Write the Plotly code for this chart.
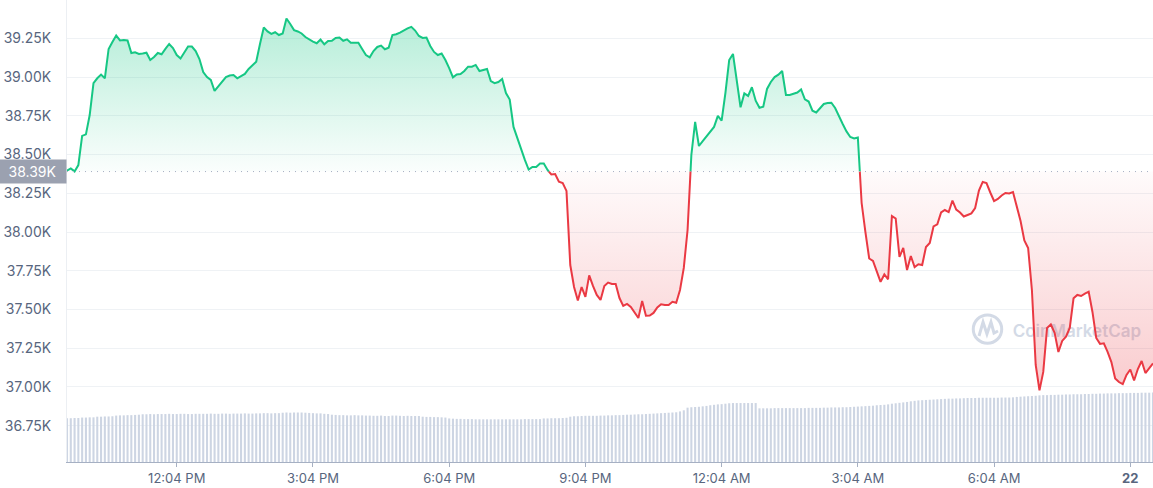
import pandas as pd
import plotly.graph_objects as go

# ---------------- data ----------------
start_time = "2022-02-21 09:39"
base_price = 38390  # opening price (dotted reference line)

prices = [
    38396, 38410, 38391, 38432, 38620, 38630, 38755, 38961, 38992, 39016,
    38992, 39181, 39226, 39268, 39236, 39239, 39236, 39155, 39160, 39149,
    39152, 39157, 39110, 39129, 39155, 39147, 39181, 39213, 39187, 39142,
    39120, 39155, 39197, 39197, 39168, 39116, 39032, 39000, 38981, 38910,
    38942, 38968, 39000, 39010, 39013, 38992, 39007, 39020, 39052, 39078,
    39099, 39213, 39320, 39294, 39278, 39289, 39271, 39281, 39378, 39342,
    39303, 39294, 39281, 39258, 39242, 39229, 39218, 39242, 39211, 39232,
    39234, 39252, 39255, 39234, 39243, 39221, 39221, 39221, 39181, 39142,
    39127, 39168, 39194, 39203, 39179, 39189, 39271, 39276, 39287, 39303,
    39314, 39324, 39300, 39265, 39252, 39255, 39200, 39162, 39142, 39152,
    39110, 39058, 38998, 39016, 39020, 39039, 39067, 39067, 39078, 39039,
    39045, 39052, 38974, 38960, 38968, 38987, 38897, 38855, 38678, 38613,
    38536, 38465, 38403, 38420, 38420, 38442, 38442, 38400, 38371, 38374,
    38325, 38316, 38265, 37787, 37645, 37558, 37645, 37581, 37720, 37652,
    37594, 37562, 37652, 37674, 37665, 37665, 37574, 37523, 37536, 37516,
    37478, 37445, 37555, 37460, 37461, 37478, 37513, 37534, 37529, 37529,
    37550, 37543, 37626, 37768, 38013, 38497, 38710, 38555, 38587, 38620,
    38652, 38678, 38749, 38718, 38897, 39110, 39149, 38981, 38805, 38894,
    38878, 38934, 38847, 38802, 38809, 38923, 38968, 39000, 39015, 39039,
    38884, 38884, 38891, 38900, 38920, 38856, 38842, 38783, 38771, 38798,
    38826, 38832, 38834, 38800, 38745, 38697, 38649, 38613, 38603, 38610,
    38187, 38000, 37829, 37813, 37742, 37678, 37726, 37695, 38103, 38087,
    37839, 37897, 37755, 37845, 37774, 37792, 37787, 37903, 37929, 38036,
    38049, 38126, 38142, 38129, 38203, 38145, 38126, 38100, 38110, 38120,
    38155, 38268, 38323, 38316, 38255, 38200, 38213, 38236, 38252, 38249,
    38258, 38155, 38071, 37945, 37897, 37626, 37142, 36978, 37097, 37381,
    37403, 37349, 37226, 37297, 37325, 37381, 37572, 37594, 37587, 37603,
    37615, 37484, 37316, 37278, 37282, 37226, 37161, 37055, 37032, 37019,
    37078, 37113, 37042, 37116, 37168, 37090, 37123, 37152,
]

volumes_b = [
    19.9, 19.9, 20.0, 20.0,
    20.2, 20.2, 20.3, 20.3,
    20.6, 20.6, 20.7, 20.7, 20.8,
    21.1, 21.2, 21.2, 21.3, 21.3, 21.4, 21.5,
    21.7, 21.7, 21.8, 21.7, 21.8, 21.8, 21.8, 21.9, 21.8, 21.8, 21.9, 21.9, 21.8, 21.8, 21.9, 21.9,
    21.9, 21.9, 22.0, 21.9, 21.9, 22.0, 22.0, 21.9, 22.0, 22.0, 22.0, 22.1, 22.0, 22.0, 22.1,
    22.1, 22.2, 22.2, 22.1, 22.2, 22.2,
    22.4, 22.5, 22.4, 22.5, 22.5, 22.5, 22.4, 22.3,
    22.2, 22.1, 22.1, 21.9, 21.8,
    21.5, 21.4, 21.3, 21.3, 21.2, 21.2, 21.3, 21.2, 21.2, 21.1, 21.1,
    21.0, 21.0, 21.1, 20.9, 20.9, 21.1, 21.1, 21.0, 20.9, 21.0, 20.9, 20.9, 20.9,
    20.6, 20.5, 20.5, 20.4, 20.4, 20.3, 20.2,
    19.8, 19.7, 19.6, 19.6, 19.5, 19.5, 19.5, 19.4, 19.4, 19.4, 19.4, 19.4, 19.4,
    19.4, 19.4, 19.4, 19.4, 19.4, 19.4, 19.4, 19.5, 19.5, 19.5, 19.5, 19.5,
    19.8, 19.8, 19.9, 19.9, 19.9, 20.0, 20.1,
    20.6, 20.8, 20.8, 20.9, 21.0, 21.0, 21.0, 21.0,
    21.1, 21.1, 21.2, 21.2, 21.3, 21.3, 21.4, 21.5, 21.5,
    21.6, 21.7, 21.7, 21.8, 21.9, 22.0, 22.1, 22.2, 22.3, 22.4, 22.5,
    22.6, 23.0, 23.5,
    24.7, 24.9, 25.0, 25.1, 25.3, 25.5, 25.8, 26.0, 26.2, 26.3, 26.5,
    26.7, 26.8, 26.8, 26.8, 26.8, 26.8, 26.8, 26.8,
    24.4, 24.4, 24.4, 24.4, 24.5, 24.5, 24.5, 24.5, 24.5, 24.5, 24.5, 24.5,
    24.5, 24.6, 24.6, 24.6, 24.6, 24.7, 24.7, 24.8, 24.8, 24.8, 24.9, 24.9,
    25.0, 25.1, 25.2, 25.3, 25.4, 25.5, 25.6, 25.8,
    25.9, 26.0, 26.2,
    26.5, 26.7, 26.9, 27.1, 27.3,
    27.6, 27.8, 28.0, 28.1,
    28.2, 28.3, 28.4, 28.5, 28.6, 28.7, 28.8, 28.8, 28.9, 28.9, 29.0,
    29.1, 29.1, 29.1, 29.2, 29.2, 29.2, 29.2, 29.2, 29.2, 29.3, 29.3, 29.3, 29.4,
    29.6, 29.7, 29.8, 29.9, 30.0, 30.1,
    30.3, 30.4, 30.4, 30.5, 30.5,
    30.6, 30.6, 30.7, 30.7, 30.8, 30.8, 30.8, 30.9,
    30.9, 31.0, 31.0, 31.1, 31.1, 31.2,
    31.2, 31.2, 31.3, 31.3, 31.3, 31.4, 31.4, 31.4, 31.5, 31.5, 31.5, 31.6,
]

tick_times = ["2022-02-21 12:04", "2022-02-21 15:04", "2022-02-21 18:04",
              "2022-02-21 21:04", "2022-02-22 00:04", "2022-02-22 03:04",
              "2022-02-22 06:04", "2022-02-22 09:04"]
tick_labels = ["12:04 PM", "3:04 PM", "6:04 PM", "9:04 PM",
               "12:04 AM", "3:04 AM", "6:04 AM", "<b>22</b>"]
y_tick_values = [36750, 37000, 37250, 37500, 37750, 38000,
                 38250, 38500, 38750, 39000, 39250]
y_tick_labels = ["36.75K", "37.00K", "37.25K", "37.50K", "37.75K", "38.00K",
                 "38.25K", "38.50K", "38.75K", "39.00K", "39.25K"]

# ---------------- build ----------------
GREEN = "#16c784"
RED = "#ea3943"
GREY_TXT = "#58667e"

price_times = list(pd.date_range(start_time, periods=len(prices), freq="5min"))
vol_times = list(pd.date_range(start_time, periods=len(volumes_b), freq="5min"))

# split the line where it crosses the opening price
xs, ys = [], []
for i, p in enumerate(prices):
    if i > 0:
        p0 = prices[i - 1]
        if (p0 - base_price) * (p - base_price) < 0:
            f = (base_price - p0) / (p - p0)
            xs.append(price_times[i - 1] + (price_times[i] - price_times[i - 1]) * f)
            ys.append(base_price)
    xs.append(price_times[i])
    ys.append(p)

up_line = [y if y >= base_price else None for y in ys]
dn_line = [y if y <= base_price else None for y in ys]
up_fill = [max(y, base_price) for y in ys]
dn_fill = [min(y, base_price) for y in ys]
base_line = [base_price] * len(ys)

fig = go.Figure()

fig.add_trace(go.Bar(x=vol_times, y=volumes_b, yaxis="y2",
                     marker=dict(color="#cdd5e3", line=dict(width=0)),
                     hoverinfo="skip"))

invisible = dict(width=0, color="rgba(0,0,0,0)")
fig.add_trace(go.Scatter(x=xs, y=base_line, mode="lines", line=invisible, hoverinfo="skip"))
fig.add_trace(go.Scatter(x=xs, y=up_fill, mode="lines", line=invisible, fill="tonexty",
                         fillgradient=dict(type="vertical",
                                           colorscale=[[0, "rgba(22,199,132,0.02)"],
                                                       [1, "rgba(22,199,132,0.32)"]]),
                         hoverinfo="skip"))
fig.add_trace(go.Scatter(x=xs, y=base_line, mode="lines", line=invisible, hoverinfo="skip"))
fig.add_trace(go.Scatter(x=xs, y=dn_fill, mode="lines", line=invisible, fill="tonexty",
                         fillgradient=dict(type="vertical",
                                           colorscale=[[0, "rgba(234,57,67,0.26)"],
                                                       [1, "rgba(234,57,67,0.02)"]]),
                         hoverinfo="skip"))
fig.add_trace(go.Scatter(x=xs, y=up_line, mode="lines", connectgaps=False,
                         line=dict(color=GREEN, width=2)))
fig.add_trace(go.Scatter(x=xs, y=dn_line, mode="lines", connectgaps=False,
                         line=dict(color=RED, width=2)))

# dotted opening-price line
fig.add_shape(type="line", xref="paper", x0=0, x1=1, yref="y",
              y0=base_price, y1=base_price,
              line=dict(color="#a6b0c3", width=1, dash="1px,5px"))

# watermark (below traces)
wm = "#d3dae6"
fig.add_shape(type="circle", xref="paper", yref="paper", layer="below",
              x0=0.8345, x1=0.8607, y0=0.2569, y1=0.3182,
              line=dict(color=wm, width=3))
fig.add_shape(type="path", xref="paper", yref="paper", layer="below",
              path="M 0.8398,0.2727 L 0.8435,0.3030 L 0.8471,0.2771 L 0.8508,0.3030 "
                   "L 0.8536,0.2792 L 0.8573,0.2835",
              line=dict(color=wm, width=3))
fig.add_shape(type="rect", xref="paper", yref="paper", layer="below",
              x0=0.868, x1=0.998, y0=0.26, y1=0.31,
              line=dict(width=0), fillcolor="rgba(0,0,0,0)",
              label=dict(text="CoinMarketCap", textposition="middle left", padding=0,
                         font=dict(family="Inter, sans-serif", size=17, color=wm, weight=600)))

# current/open price label on the axis
fig.add_annotation(xref="paper", x=0, xanchor="right", yref="y", y=base_price,
                   text="38.39K", showarrow=False, bgcolor="#9ba1b0",
                   font=dict(color="white", size=14, family="Inter, sans-serif"),
                   width=59, height=15, borderpad=4, align="center")

fig.update_layout(
    width=1153, height=488,
    margin=dict(l=67, r=0, t=0, b=26),
    paper_bgcolor="white", plot_bgcolor="white",
    showlegend=False, bargap=0.45,
    font=dict(family="Inter, Roboto, sans-serif", size=13, color=GREY_TXT),
    xaxis=dict(type="date", range=[price_times[0], price_times[-1]],
               tickmode="array", tickvals=tick_times, ticktext=tick_labels,
               showgrid=False, zeroline=False,
               showline=True, linecolor="#a6b0c3", linewidth=1,
               ticks="outside", ticklen=4, tickcolor="#a6b0c3",
               tickfont=dict(size=13, color=GREY_TXT)),
    yaxis=dict(range=[36516, 39497], tickmode="array",
               tickvals=y_tick_values, ticktext=y_tick_labels,
               showgrid=True, gridcolor="#eff2f5", gridwidth=1,
               zeroline=False, showline=True, linecolor="#eceff3",
               ticks="", ticklabelstandoff=12,
               tickfont=dict(size=14, color=GREY_TXT)),
    yaxis2=dict(overlaying="y", range=[0, 210], visible=False),
)

fig.write_html("out.html", config={"displayModeBar": False},
               post_script="document.body.style.margin='0';")
